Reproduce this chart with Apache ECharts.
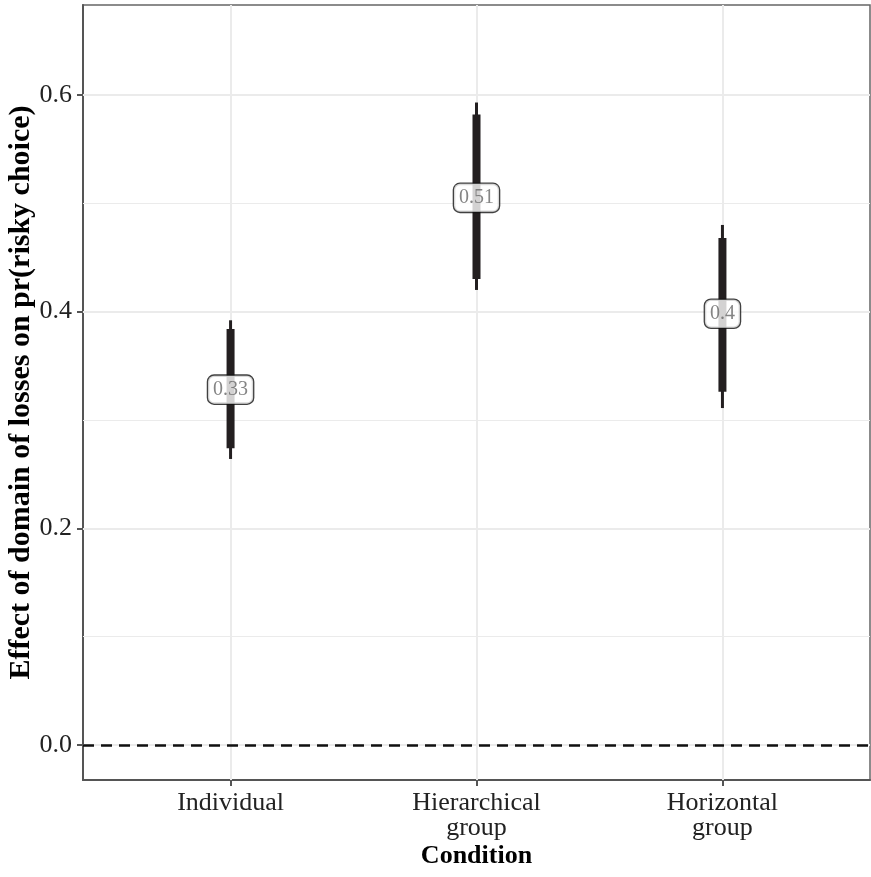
<!DOCTYPE html>
<html><head><meta charset="utf-8">
<script src="https://cdn.jsdelivr.net/npm/echarts@6/dist/echarts.min.js"></script>
<style>html,body{margin:0;padding:0;background:#fff}#c{width:871px;height:877px}</style>
</head><body><div id="c"></div>
<script>
const categories = ['Individual', 'Hierarchical\ngroup', 'Horizontal\ngroup'];
const estimates = [0.328, 0.505, 0.398];
const estimateLabels = ['0.33', '0.51', '0.4'];
const lower95 = [0.264, 0.420, 0.311];
const upper95 = [0.392, 0.593, 0.480];
const lower66 = [0.274, 0.430, 0.326];
const upper66 = [0.384, 0.582, 0.468];
const yTicks = [0, 0.2, 0.4, 0.6];
const yMinorGrid = [0.1, 0.3, 0.5];
const xTicks = [1, 2, 3];
const refLine = 0;

const FONT = '"Liberation Serif", "DejaVu Serif", serif';
const chart = echarts.init(document.getElementById('c'), null, {renderer: 'canvas'});

const intervalData = categories.map((c, i) => [i + 1, lower95[i], upper95[i], lower66[i], upper66[i]]);
const labelData = categories.map((c, i) => ({value: [i + 1, estimates[i]], label: {formatter: estimateLabels[i]}}));

const gridLines = [];
yTicks.forEach(v => gridLines.push({yAxis: v, lineStyle: {color: '#EBEBEB', width: 2, type: 'solid'}}));
yMinorGrid.forEach(v => gridLines.push({yAxis: v, lineStyle: {color: '#EBEBEB', width: 1, type: 'solid'}}));
xTicks.forEach(v => gridLines.push({xAxis: v, lineStyle: {color: '#EBEBEB', width: 2, type: 'solid'}}));

chart.setOption({
  animation: false,
  backgroundColor: '#fff',
  grid: {left: 83, right: 1, top: 5, bottom: 97, containLabel: false, outerBoundsMode: 'none',
    show: true, borderColor: '#666', borderWidth: 1.5, backgroundColor: 'transparent'},
  xAxis: {
    type: 'value', min: 0.4, max: 3.6,
    axisLine: {show: true, onZero: false, lineStyle: {color: '#555', width: 2}},
    axisTick: {show: true, customValues: xTicks, length: 6, lineStyle: {color: '#555', width: 2}},
    axisLabel: {show: true, customValues: xTicks, margin: 11, color: '#222', fontFamily: FONT, fontSize: 26, lineHeight: 25,
      formatter: v => categories[Math.round(v) - 1] || ''},
    splitLine: {show: false},
    name: 'Condition', nameLocation: 'middle', nameGap: 63, nameMoveOverlap: false,
    nameTextStyle: {fontFamily: FONT, fontSize: 26, fontWeight: 'bold', color: '#000'}
  },
  yAxis: {
    type: 'value', min: -0.0323, max: 0.683,
    axisLine: {show: true, onZero: false, lineStyle: {color: '#555', width: 2}},
    axisTick: {show: true, customValues: yTicks, length: 6, lineStyle: {color: '#555', width: 2}},
    axisLabel: {show: true, customValues: yTicks, margin: 11, color: '#222', fontFamily: FONT, fontSize: 26,
      formatter: v => v.toFixed(1)},
    splitLine: {show: false},
    name: 'Effect of domain of losses on pr(risky choice)', nameLocation: 'middle', nameGap: 47, nameMoveOverlap: false,
    nameTextStyle: {fontFamily: FONT, fontSize: 30, fontWeight: 'bold', color: '#000'}
  },
  series: [
    {
      type: 'custom', name: 'intervals', z: 3,
      data: intervalData,
      renderItem: function (params, api) {
        const x = api.value(0);
        const a = api.coord([x, api.value(1)]), b = api.coord([x, api.value(2)]);
        const c = api.coord([x, api.value(3)]), d = api.coord([x, api.value(4)]);
        return {type: 'group', children: [
          {type: 'line', shape: {x1: a[0], y1: a[1], x2: b[0], y2: b[1]}, style: {stroke: '#231F20', lineWidth: 3}},
          {type: 'line', shape: {x1: c[0], y1: c[1], x2: d[0], y2: d[1]}, style: {stroke: '#231F20', lineWidth: 8}}
        ]};
      },
      markLine: {silent: true, symbol: ['none', 'none'], label: {show: false}, z: 1, data: gridLines}
    },
    {
      type: 'line', name: 'ref', z: 2, data: [], showSymbol: false,
      markLine: {silent: true, symbol: ['none', 'none'], label: {show: false},
        data: [{yAxis: refLine, lineStyle: {color: '#111', width: 2.5, type: [11, 7]}}]}
    },
    {
      type: 'scatter', name: 'labels', z: 5, symbolSize: 1, itemStyle: {color: 'rgba(0,0,0,0)'},
      data: labelData,
      label: {show: true, position: 'inside', fontFamily: FONT, fontSize: 20, color: '#666',
        backgroundColor: '#fff', borderColor: '#111', borderWidth: 1.3, borderRadius: 6,
        padding: [5, 5, 3, 5]}
    }
  ]
});
</script></body></html>
